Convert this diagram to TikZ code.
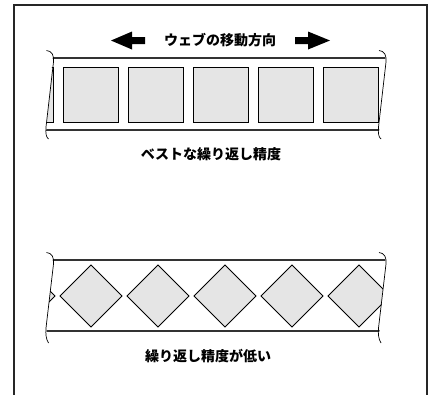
\documentclass[tikz,border=0pt]{standalone}
\usepackage{fontspec}
\newfontfamily\jp{Noto Sans CJK JP}
\begin{document}
\begin{tikzpicture}[x=1pt,y=-1pt,
  stripline/.style={draw=black!80,line width=1.3pt},
  breakline/.style={draw=black,line width=0.7pt},
  cell/.style={draw=black,line width=0.8pt,fill=black!10,rectangle,minimum size=55pt,inner sep=0pt},
  dcell/.style={draw=black,line width=0.8pt,fill=black!10,rectangle,minimum size=43.8pt,inner sep=0pt,rotate=45},
  bigarrow/.style={fill=black,draw=none},
  label/.style={font=\jp\bfseries\fontsize{14}{16}\selectfont,inner sep=0pt}]
\useasboundingbox (0,0) rectangle (430,394);
% frame
\draw[line width=2pt,black!85] (14,400) -- (14,5) -- (427,5) -- (427,400);
% arrows and title
\node[label] (title) at (220,40.5) {ウェブの移動方向};
\fill[bigarrow] (111,40.5) -- (132,31.5) -- (132,37) -- (145,37) -- (145,44) -- (132,44) -- (132,49.5) -- cycle;
\fill[bigarrow] (330,40.5) -- (308,31.5) -- (308,37) -- (295,37) -- (295,44) -- (308,44) -- (308,49.5) -- cycle;
% ---------- upper strip ----------
\begin{scope}
\clip (53.5,50) -- (45.5,138) -- (378.5,138) -- (386,50) -- cycle;
\draw[stripline] (40,58) -- (390,58);
\draw[stripline] (40,130) -- (390,130);
\foreach \i in {0,...,5} {
  \node[cell] (s\i) at (25.5+65*\i,94.5) {};
}
\end{scope}
\draw[breakline] (46.5,50.5) .. controls (52,51) and (54,55) .. (53.5,62) -- (46,127) .. controls (45.5,133) and (46,137) .. (48.5,139);
\draw[breakline] (379,50.5) .. controls (384.5,51) and (386.5,55) .. (386,62) -- (378.5,127) .. controls (378,133) and (378.5,137) .. (381,139);
\node[label] (best) at (211,154) {ベストな繰り返し精度};
% ---------- lower strip ----------
\begin{scope}
\clip (53.5,252) -- (45.5,343) -- (378.5,343) -- (386,252) -- cycle;
\draw[stripline] (40,260) -- (390,260);
\draw[stripline] (40,331) -- (390,331);
\foreach \i in {0,...,5} {
  \node[dcell] (d\i) at (24+67*\i,296) {};
}
\end{scope}
\draw[breakline] (46.5,252.5) .. controls (52,253) and (54,257) .. (53.5,264) -- (46,328) .. controls (45.5,334) and (46,339) .. (48.5,343);
\draw[breakline] (379,252.5) .. controls (384.5,253) and (386.5,257) .. (386,264) -- (378.5,328) .. controls (378,334) and (378.5,339) .. (381,343);
\node[label] (low) at (208,356) {繰り返し精度が低い};
\end{tikzpicture}
\end{document}
